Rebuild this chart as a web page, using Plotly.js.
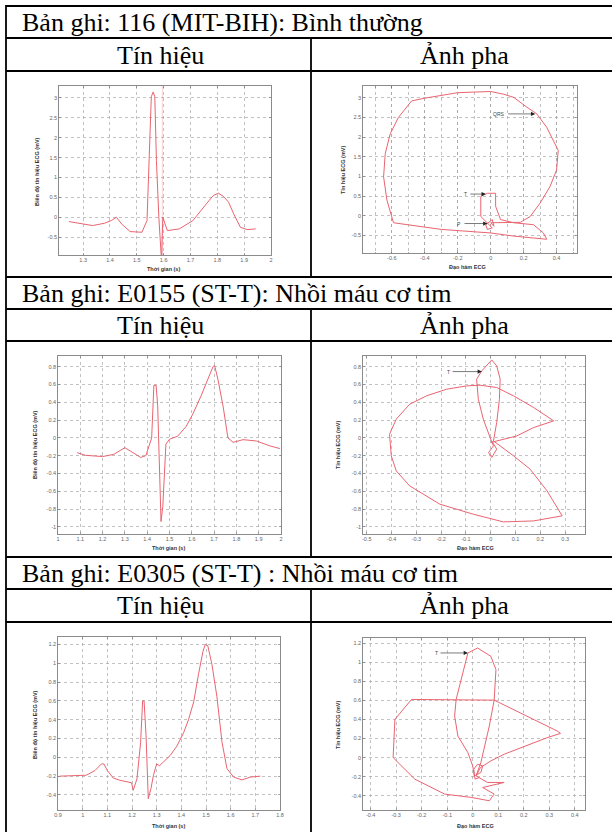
<!DOCTYPE html>
<html>
<head>
<meta charset="utf-8">
<script src="https://cdn.plot.ly/plotly-3.0.1.min.js"></script>
<style>
html,body{margin:0;padding:0;background:#fff;}
#chart{width:612px;height:832px;}
</style>
</head>
<body>
<div id="chart"></div>
<script>
// ---------------- DATA ----------------
const rowTitles = [
  "Bản ghi: 116 (MIT-BIH): Bình thường",
  "Bản ghi: E0155 (ST-T): Nhồi máu cơ tim",
  "Bản ghi: E0305 (ST-T) : Nhồi máu cơ tim"
];
const colTitles = ["Tín hiệu", "Ảnh pha"];
const sigXTitle = "Thời gian (s)";
const sigYTitle = "Biên độ tín hiệu ECG (mV)";
const phaseXTitle = "Đạo hàm ECG";
const phaseYTitle = "Tín hiệu ECG (mV)";

// Record 116 - signal
const t116 = [1.247,1.291,1.335,1.380,1.405,1.424,1.443,1.475,1.519,1.538,1.547,1.554,1.561,1.567,1.573,1.582,1.592,1.597,1.605,1.614,1.658,1.709,1.759,1.785,1.804,1.823,1.842,1.861,1.886,1.911,1.943];
const v116 = [-0.109,-0.168,-0.210,-0.151,-0.084,0.0,-0.168,-0.361,-0.378,-0.084,1.43,3.03,3.15,3.03,1.43,0.0,-1.09,0.0,-0.168,-0.336,-0.294,-0.084,0.336,0.546,0.605,0.521,0.378,0.084,-0.252,-0.311,-0.294];
const mark116T = [1.595, 1.595];
const mark116V = [-1.0, 3.3];
// Record 116 - phase portrait
const d116 = [0,0.18,0.24,0.30,0.36,0.40,0.41,0.34,0.28,0.22,0.14,0.08,0,-0.20,-0.40,-0.48,-0.56,-0.61,-0.64,-0.65,-0.63,-0.59,-0.30,0,0.14,0.34,0.32,0.26,0.14,0.06,0.03,0.03,-0.02,-0.06,-0.06,-0.02,0.01,-0.02,-0.03,0.01,0.02,0];
const p116 = [-0.18,-0.17,-0.02,0.32,0.74,1.16,1.66,2.25,2.59,2.76,3.01,3.09,3.16,3.13,2.99,2.92,2.50,2.08,1.58,0.99,0.40,-0.18,-0.35,-0.44,-0.52,-0.60,-0.44,-0.23,-0.18,-0.10,0.24,0.57,0.57,0.49,-0.02,-0.18,-0.31,-0.35,-0.23,-0.10,-0.27,-0.18];

// Record E0155 - signal
const t155 = [1.086,1.123,1.2,1.25,1.3,1.334,1.371,1.394,1.409,1.42,1.43,1.44,1.447,1.454,1.462,1.47,1.477,1.484,1.5,1.537,1.575,1.605,1.642,1.672,1.695,1.702,1.717,1.74,1.762,1.785,1.83,1.89,1.95,1.995];
const v155 = [-0.166,-0.196,-0.21,-0.185,-0.11,-0.166,-0.22,-0.2,-0.09,0.0,0.59,0.59,0.36,-0.32,-0.94,-0.77,-0.32,-0.07,-0.015,0.02,0.13,0.27,0.475,0.66,0.8,0.815,0.66,0.36,0.0,-0.05,-0.02,-0.035,-0.09,-0.12];
// Record E0155 - phase portrait
const d155 = [0,0.105,0.173,0.254,0.173,0.092,0.024,-0.043,-0.097,-0.178,-0.259,-0.327,-0.381,-0.408,-0.401,-0.381,-0.327,-0.205,-0.070,0.051,0.173,0.288,0.227,0.159,0.092,0.038,0.011,0.024,0.035,0.038,0.024,0.004,-0.036,-0.057,-0.050,-0.030,-0.009,0.0,0.011,-0.009,0.004,0.024,0.004];
const p155 = [-0.052,0.022,0.116,0.191,0.341,0.472,0.566,0.592,0.584,0.547,0.472,0.378,0.210,0.041,-0.202,-0.371,-0.539,-0.745,-0.858,-0.944,-0.933,-0.876,-0.596,-0.352,-0.202,-0.090,-0.034,0.172,0.434,0.659,0.809,0.876,0.753,0.659,0.434,0.210,0.041,-0.015,-0.090,-0.165,-0.221,-0.127,-0.034];

// Record E0305 - signal
const t305 = [0.907,1.015,1.05,1.076,1.086,1.1,1.124,1.151,1.198,1.205,1.22,1.235,1.243,1.249,1.257,1.266,1.277,1.287,1.3,1.311,1.327,1.355,1.382,1.409,1.429,1.45,1.47,1.488,1.497,1.507,1.524,1.544,1.565,1.585,1.612,1.646,1.68,1.72];
const v305 = [-0.2,-0.19,-0.14,-0.07,-0.07,-0.14,-0.22,-0.244,-0.27,-0.35,-0.23,0.16,0.6,0.6,0.23,-0.44,-0.33,-0.19,-0.07,-0.09,-0.05,0.02,0.12,0.26,0.4,0.59,0.89,1.13,1.2,1.19,0.99,0.65,0.16,-0.12,-0.21,-0.24,-0.21,-0.2];
// Record E0305 - phase portrait
const d305 = [0.013,0.030,0.071,0.123,0.292,0.344,0.331,0.084,-0.240,-0.305,-0.312,-0.227,-0.110,-0.006,0.065,0.084,0.039,0.123,0.058,0.013,0.032,0.045,0.065,0.084,0.091,0.071,0.019,-0.019,-0.065,-0.071,-0.058,-0.019,0.0,0.006,0.032,0.039,0.019,0.004,0.009,0.026];
const p305 = [-0.192,-0.105,-0.035,0.035,0.209,0.254,0.279,0.603,0.610,0.401,0.0,-0.226,-0.383,-0.418,-0.453,-0.383,-0.314,-0.261,-0.261,-0.192,-0.052,0.087,0.331,0.603,0.923,1.063,1.150,1.098,0.610,0.436,0.226,0.052,-0.087,-0.192,-0.157,-0.087,-0.070,-0.122,-0.226,-0.209];

// Arrow labels on phase portraits: [label, headX, headY, tailX]
const arrows116 = [["QRS",0.27,2.59,0.10],["T",-0.03,0.55,-0.13],["P",-0.02,-0.20,-0.165]];
const arrows155 = [["T",-0.036,0.745,-0.158]];
const arrows305 = [["T",-0.019,1.098,-0.13]];

// Tick labels
const ticks = {
  x1:[1.3,1.4,1.5,1.6,1.7,1.8,1.9,2], y1:[-0.5,0,0.5,1,1.5,2,2.5,3],
  x2:[-0.6,-0.4,-0.2,0,0.2,0.4], y2:[-0.5,0,0.5,1,1.5,2,2.5,3],
  x3:[1,1.1,1.2,1.3,1.4,1.5,1.6,1.7,1.8,1.9,2], y3:[-1,-0.8,-0.6,-0.4,-0.2,0,0.2,0.4,0.6,0.8],
  x4:[-0.5,-0.4,-0.3,-0.2,-0.1,0,0.1,0.2,0.3], y4:[-1,-0.8,-0.6,-0.4,-0.2,0,0.2,0.4,0.6,0.8],
  x5:[0.9,1,1.1,1.2,1.3,1.4,1.5,1.6,1.7,1.8], y5:[-0.4,-0.2,0,0.2,0.4,0.6,0.8,1,1.2],
  x6:[-0.4,-0.3,-0.2,-0.1,0,0.1,0.2,0.3,0.4], y6:[-0.4,-0.2,0,0.2,0.4,0.6,0.8,1,1.2]
};

// ---------------- LAYOUT HELPERS ----------------
const W = 612, H = 832;
const fx = v => v / W;
const fy = v => 1 - v / H;
const LINE = '#ea6470';

// frames in pixels: [left, right, top, bottom]
const frames = [
  [59,271,86,255], [363,577,86,253],
  [58,281,356,534], [363,585,356,534],
  [58,280,637,810], [363,585,638,810]
];
const ranges = [
  [[1.21,2],[-0.95,3.3]], [[-0.775,0.524],[-0.95,3.3]],
  [[1,2],[-1.08,0.92]], [[-0.515,0.38],[-1.08,0.92]],
  [[0.9,1.8],[-0.56,1.28]], [[-0.43,0.44],[-0.55,1.255]]
];

function axStyle() {
  return {
    showline:true, mirror:'ticks', linecolor:'#6e6e6e', linewidth:0.8,
    showgrid:true, gridcolor:'#9a9a9a', griddash:'dot', gridwidth:0.6,
    zeroline:false, ticks:'inside', ticklen:2, tickcolor:'#6e6e6e', tickwidth:0.6,
    tickfont:{family:'Liberation Sans, Arial, sans-serif', size:5.5, color:'#666'},
    fixedrange:true, tickmode:'array'
  };
}

const layout = {
  width:W, height:H, margin:{l:0,r:0,t:0,b:0},
  paper_bgcolor:'#fff', plot_bgcolor:'#fff', showlegend:false,
  shapes:[], annotations:[]
};

for (let i = 0; i < 6; i++) {
  const [l,r,t,b] = frames[i];
  const n = i + 1;
  const xa = Object.assign(axStyle(), {
    domain:[fx(l), fx(r)], range:ranges[i][0], anchor:'y'+n,
    tickvals:ticks['x'+n], ticktext:ticks['x'+n].map(String)
  });
  const ya = Object.assign(axStyle(), {
    domain:[fy(b), fy(t)], range:ranges[i][1], anchor:'x'+n,
    tickvals:ticks['y'+n], ticktext:ticks['y'+n].map(String)
  });
  if (i === 1) {
    xa.minor = {dtick:0.1, tick0:0, showgrid:true, gridcolor:'#9a9a9a', griddash:'dot', gridwidth:0.6, ticks:'inside', ticklen:1.5, tickcolor:'#6e6e6e'};
  }
  layout['xaxis' + (n===1?'':n)] = xa;
  layout['yaxis' + (n===1?'':n)] = ya;
}

// table lines
const tl = {color:'#000', width:1.8};
function hline(y, x0, x1){ layout.shapes.push({type:'line', xref:'paper', yref:'paper', x0:fx(x0), x1:fx(x1), y0:fy(y), y1:fy(y), line:tl}); }
function vline(x, y0, y1){ layout.shapes.push({type:'line', xref:'paper', yref:'paper', x0:fx(x), x1:fx(x), y0:fy(y0), y1:fy(y1), line:tl}); }
[6,38,71,277,309,341,557,589,622].forEach(y => hline(y, 6, 615));
vline(6, 5.1, 835);
vline(311, 38, 277); vline(311, 309, 557); vline(311, 589, 835);

// table texts
const serif = {family:'Liberation Serif, Times New Roman, serif', size:26, color:'#000'};
const headY = [22, 293, 573];
const colY = [55, 325, 605.5];
for (let k = 0; k < 3; k++) {
  layout.annotations.push({xref:'paper', yref:'paper', x:fx(20), y:fy(headY[k]), xanchor:'left', yanchor:'middle', text:rowTitles[k], showarrow:false, font:serif});
  layout.annotations.push({xref:'paper', yref:'paper', x:fx(160), y:fy(colY[k]), xanchor:'center', yanchor:'middle', text:colTitles[0], showarrow:false, font:serif});
  layout.annotations.push({xref:'paper', yref:'paper', x:fx(464), y:fy(colY[k]), xanchor:'center', yanchor:'middle', text:colTitles[1], showarrow:false, font:serif});
}

// axis titles (small)
const tf = {family:'Liberation Sans, Arial, sans-serif', size:5.5, color:'#333', weight:'bold'};
const xTitlePos = [[163,269],[468,267],[168,548],[475,548],[168,826],[475,826]];
const yTitlePos = [[37,172],[343,170],[35,445],[338,445],[35,725],[338,725]];
for (let i = 0; i < 6; i++) {
  const sig = (i % 2 === 0);
  layout.annotations.push({xref:'paper', yref:'paper', x:fx(xTitlePos[i][0]), y:fy(xTitlePos[i][1]), xanchor:'center', yanchor:'middle', text: sig ? sigXTitle : phaseXTitle, showarrow:false, font:tf});
  layout.annotations.push({xref:'paper', yref:'paper', x:fx(yTitlePos[i][0]), y:fy(yTitlePos[i][1]), xanchor:'center', yanchor:'middle', text: sig ? sigYTitle : phaseYTitle, textangle:-90, showarrow:false, font:tf});
}

// arrows on phase portraits
function addArrows(list, n) {
  list.forEach(a => {
    layout.annotations.push({
      xref:'x'+n, yref:'y'+n, axref:'x'+n, ayref:'y'+n,
      x:a[1], y:a[2], ax:a[3], ay:a[2], text:a[0], showarrow:true,
      arrowhead:2, arrowsize:1.4, arrowwidth:0.6, arrowcolor:'#222', standoff:0, startstandoff:1,
      font:{family:'Liberation Sans, Arial, sans-serif', size:5, color:'#444'}, xanchor:'right'
    });
  });
}
addArrows(arrows116, 2);
addArrows(arrows155, 4);
addArrows(arrows305, 6);

// ---------------- TRACES ----------------
const ln = {color:LINE, width:1};
const data = [
  {x:t116, y:v116, xaxis:'x', yaxis:'y', mode:'lines', line:ln},
  {x:mark116T, y:mark116V, xaxis:'x', yaxis:'y', mode:'lines', line:{color:'rgba(234,100,112,0.35)', width:0.8}},
  {x:d116, y:p116, xaxis:'x2', yaxis:'y2', mode:'lines', line:ln},
  {x:t155, y:v155, xaxis:'x3', yaxis:'y3', mode:'lines', line:ln},
  {x:d155, y:p155, xaxis:'x4', yaxis:'y4', mode:'lines', line:ln},
  {x:t305, y:v305, xaxis:'x5', yaxis:'y5', mode:'lines', line:ln},
  {x:d305, y:p305, xaxis:'x6', yaxis:'y6', mode:'lines', line:ln}
];

Plotly.newPlot('chart', data, layout, {staticPlot:true, displayModeBar:false});
</script>
</body>
</html>
